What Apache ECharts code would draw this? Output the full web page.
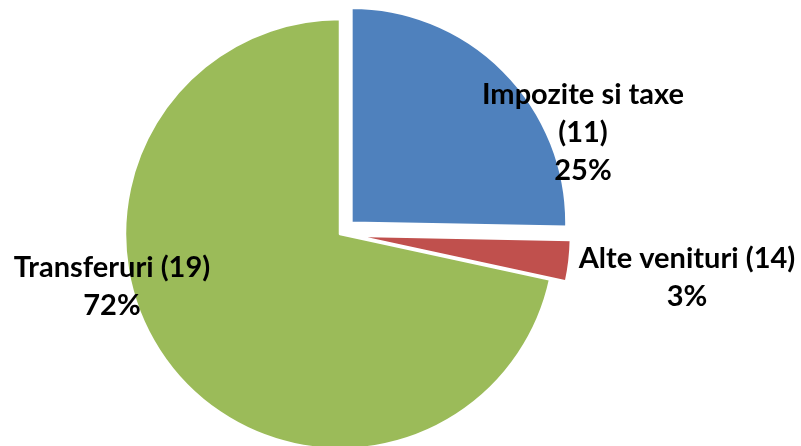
<!DOCTYPE html>
<html>
<head>
<meta charset="utf-8">
<script src="https://cdn.jsdelivr.net/npm/echarts@6/dist/echarts.min.js"></script>
<style>
html,body{margin:0;padding:0;background:#fff;}
#c{width:801px;height:446px;}
</style>
</head>
<body>
<div id="c"></div>
<script>
var categories = ['Impozite si taxe (11)', 'Alte venituri (14)', 'Transferuri (19)'];
var labelNames = ['Impozite si taxe\n(11)', 'Alte venituri (14)', 'Transferuri (19)'];
var values = [25.3, 3.1, 71.6];
var colors = ['#4F81BD', '#C0504D', '#9BBB59'];
var exploded = [true, true, false];
var labelSpots = [[583, 133], [687, 278], [112, 287]];

var chart = echarts.init(document.getElementById('c'), null, {renderer: 'canvas'});
var total = values.reduce(function (a, b) { return a + b; }, 0);
chart.setOption({
  animation: false,
  backgroundColor: '#ffffff',
  graphic: labelNames.map(function (n, i) {
    return {
      type: 'text',
      x: labelSpots[i][0],
      y: labelSpots[i][1],
      z: 100,
      style: {
        text: n + '\n' + Math.round(values[i] / total * 100) + '%',
        fontFamily: 'Lato',
        fontWeight: 'bold',
        fontSize: 29,
        lineHeight: 38,
        fill: '#000000',
        align: 'center',
        verticalAlign: 'middle'
      }
    };
  }),
  series: [{
    type: 'pie',
    center: [340, 234],
    radius: [0, 215],
    startAngle: 90,
    clockwise: true,
    selectedMode: 'multiple',
    selectedOffset: 16,
    emphasis: {disabled: true},
    itemStyle: {borderColor: '#ffffff', borderWidth: 2.5},
    labelLine: {show: false},
    label: {show: false},
    data: categories.map(function (c, i) {
      return {name: c, value: values[i], selected: exploded[i], itemStyle: {color: colors[i]}};
    })
  }]
});
</script>
</body>
</html>
